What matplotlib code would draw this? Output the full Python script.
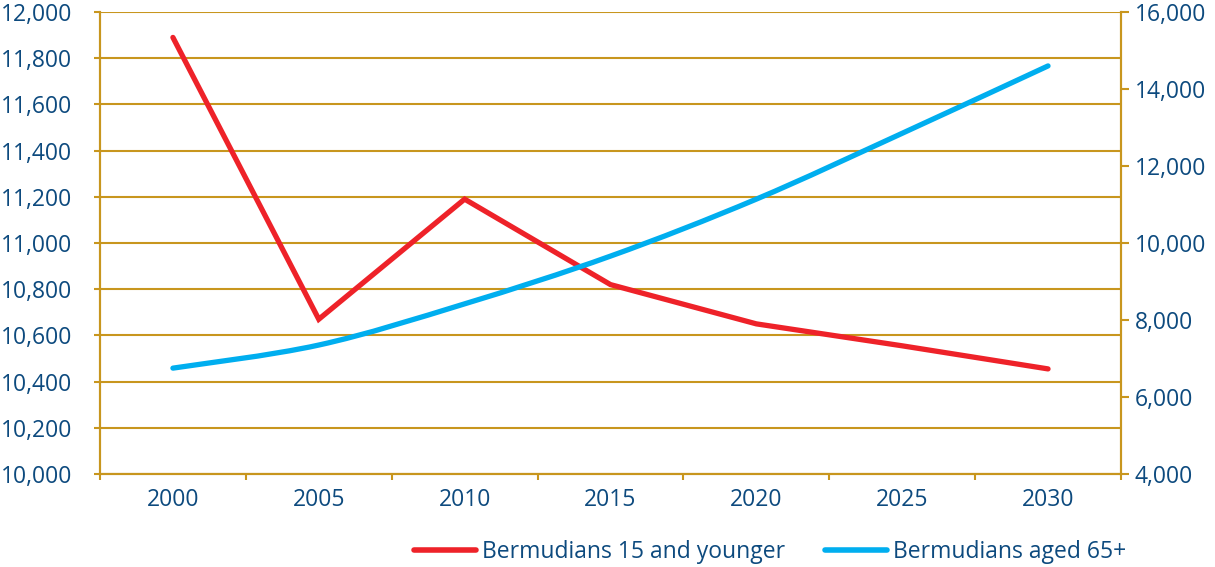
import numpy as np
import matplotlib.pyplot as plt
from matplotlib.path import Path
from matplotlib.patches import PathPatch
from matplotlib.lines import Line2D

years = ['2000', '2005', '2010', '2015', '2020', '2025', '2030']
young = [11890, 10670, 11190, 10820, 10650, 10555, 10455]
aged = [6750, 7350, 8420, 9660, 11140, 12850, 14600]

gold = '#C8961E'
navy = '#0D4A7E'
red = '#EE2229'
blue = '#00AEEF'

plt.rcParams['font.family'] = ['Open Sans', 'DejaVu Sans']

fig = plt.figure(figsize=(12.15, 5.67), dpi=100)
ax = fig.add_axes([0.0823, 0.164, 0.8403, 0.8148])
ax2 = ax.twinx()

x = np.arange(len(years))

ax.set_xlim(-0.5, len(years) - 0.5)
ax.set_ylim(10000, 12000)
ax.set_yticks(np.arange(10000, 12001, 200))
ax.set_yticklabels([f'{v:,}' for v in range(10000, 12001, 200)])
ax.set_xticks(x)
ax.set_xticklabels(years)
ax.set_xticks(np.arange(-0.5, len(years)), minor=True)
ax.tick_params(axis='x', which='major', length=0, pad=10, labelsize=16.5, labelcolor=navy)
ax.tick_params(axis='x', which='minor', length=4, width=1.5, color=gold)
ax.tick_params(axis='y', length=4, width=1.5, color=gold, labelsize=16.5, labelcolor=navy, pad=16)
ax.grid(axis='y', color=gold, linewidth=1.5)
ax.set_axisbelow(True)

ax2.set_ylim(4000, 16000)
ax2.set_yticks(np.arange(4000, 16001, 2000))
ax2.set_yticklabels([f'{v:,}' for v in range(4000, 16001, 2000)])
ax2.tick_params(axis='y', length=6, width=1.5, color=gold, labelsize=16.5, labelcolor=navy, pad=4)

for a in (ax, ax2):
    for side in ('left', 'right', 'bottom'):
        a.spines[side].set_color(gold)
        a.spines[side].set_linewidth(1.5)
    a.spines['top'].set_visible(False)

ax.plot(x, young, color=red, linewidth=3.8, solid_capstyle='round', solid_joinstyle='miter', zorder=3)

# smoothed line through the 65+ values (Catmull-Rom as cubic Bezier segments)
pts = np.column_stack([x, aged]).astype(float)
verts = [tuple(pts[0])]
codes = [Path.MOVETO]
for i in range(len(pts) - 1):
    p0 = pts[max(i - 1, 0)]
    p1 = pts[i]
    p2 = pts[i + 1]
    p3 = pts[min(i + 2, len(pts) - 1)]
    c1 = p1 + (p2 - p0) / 6
    c2 = p2 - (p3 - p1) / 6
    verts += [tuple(c1), tuple(c2), tuple(p2)]
    codes += [Path.CURVE4] * 3
ax2.add_patch(PathPatch(Path(verts, codes), facecolor='none', edgecolor=blue,
                        linewidth=3.8, capstyle='round', zorder=3))

handles = [Line2D([], [], color=red, linewidth=4, solid_capstyle='round'),
           Line2D([], [], color=blue, linewidth=4, solid_capstyle='round')]
leg = fig.legend(handles, ['Bermudians 15 and younger', 'Bermudians aged 65+'],
                 loc='center', bbox_to_anchor=(0.634, 0.026), ncol=2, frameon=False,
                 fontsize=16.5, handlelength=2.7, handletextpad=0.26, columnspacing=1.75)
for t in leg.get_texts():
    t.set_color(navy)

fig.savefig('out.png', dpi=100)
